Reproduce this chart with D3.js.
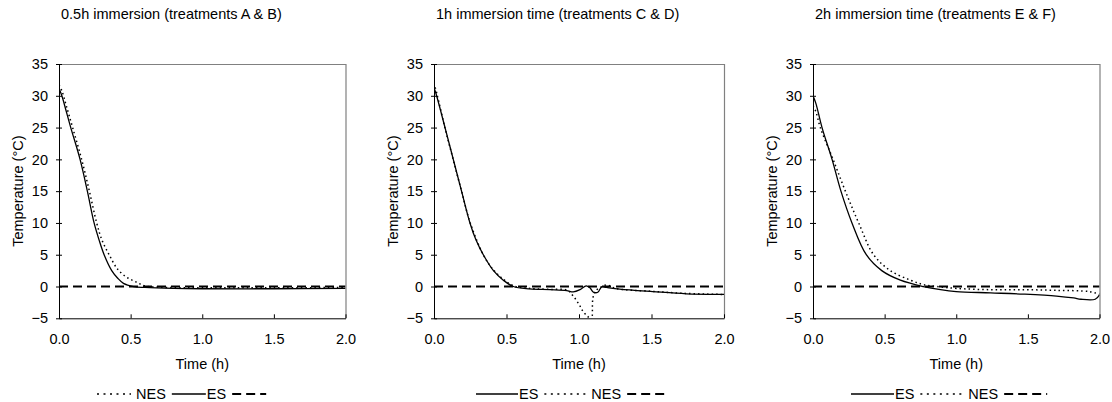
<!DOCTYPE html>
<html>
<head>
<meta charset="utf-8">
<script src="https://cdn.jsdelivr.net/npm/d3@7"></script>
<style>
    body { margin: 0; background: #fff; }
    svg { display: block; font-family: "Liberation Sans", Arial, sans-serif; }
</style>
</head>
<body>
<svg id="chart" width="1112" height="402"></svg>
<script>

// titles of the three panels
const panelTitles = [
    "0.5h immersion (treatments A & B)",
    "1h immersion time (treatments C & D)",
    "2h immersion time (treatments E & F)"
];

const xTicks = [0, 0.5, 1.0, 1.5, 2.0];
const yTicks = [-5, 0, 5, 10, 15, 20, 25, 30, 35];

// [time (h), temperature (°C)]
const esAB = [[0, 31.2], [0.02, 30], [0.05, 27.6], [0.082, 25], [0.147, 20], [0.198, 15], [0.245, 10],
    [0.28, 7.3], [0.315, 5], [0.368, 2.5], [0.41, 1.3], [0.45, 0.5], [0.52, 0], [0.6, -0.15],
    [0.8, -0.3], [1.0, -0.35], [1.5, -0.35], [2.0, -0.3]];
const nesAB = [[0, 31.7], [0.02, 30.8], [0.05, 28.5], [0.095, 25], [0.158, 20], [0.212, 15], [0.263, 10],
    [0.3, 7.3], [0.35, 5], [0.41, 2.7], [0.47, 1.5], [0.53, 0.8], [0.6, 0.1], [0.7, -0.1],
    [1.0, -0.2], [1.5, -0.2], [2.0, -0.15]];

const esCD = [[0, 31.3], [0.018, 30], [0.076, 25], [0.133, 20], [0.19, 15], [0.248, 10], [0.29, 7.3],
    [0.34, 5], [0.41, 2.5], [0.478, 1], [0.547, 0], [0.66, -0.37], [0.8, -0.5], [0.915, -0.65],
    [0.96, -0.85], [1.007, -0.5], [1.05, 0.1], [1.075, -0.2], [1.1, -0.9], [1.13, -0.9],
    [1.157, -0.05], [1.19, -0.15], [1.28, -0.4], [1.51, -0.8], [1.74, -1.15], [1.97, -1.25], [2.0, -1.25]];
const nesCD = [[0, 32], [0.02, 30.3], [0.075, 25], [0.132, 20], [0.19, 15], [0.25, 10], [0.34, 5],
    [0.41, 2.6], [0.48, 1.1], [0.55, 0.1], [0.66, -0.3], [0.8, -0.45], [0.92, -0.6], [0.96, -1.5],
    [1.0, -2.8], [1.03, -4], [1.06, -4.7], [1.085, -5.2], [1.095, -2], [1.11, -0.8], [1.15, -0.1],
    [1.19, 0.25], [1.25, -0.3], [1.5, -0.75], [1.75, -1.1], [2.0, -1.25]];

const esEF = [[0, 30], [0.02, 28.8], [0.063, 25], [0.133, 20], [0.195, 15], [0.272, 10], [0.372, 5],
    [0.48, 2.5], [0.61, 1], [0.77, 0], [0.89, -0.5], [1.0, -0.8], [1.24, -1.0], [1.47, -1.2],
    [1.7, -1.5], [1.82, -1.8], [1.87, -2], [1.97, -2], [2.0, -1.3]];
const nesEF = [[0, 28.4], [0.02, 27.5], [0.051, 25], [0.14, 20], [0.226, 15], [0.319, 10], [0.423, 5],
    [0.54, 2.5], [0.68, 1], [0.77, 0.3], [0.865, 0], [1.0, -0.3], [1.24, -0.5], [1.47, -0.5],
    [1.7, -0.6], [1.93, -0.8], [2.0, -1.2]];

// freezing reference line
const zeroLine = [[0, 0], [2, 0]];

// legend order differs per panel
const legendAB = [["NES", "dot"], ["ES", "solid"], ["", "dash"]];
const legendCD = [["ES", "solid"], ["NES", "dot"], ["", "dash"]];
const legendEF = [["ES", "solid"], ["NES", "dot"], ["", "dash"]];


const styles = {
    solid: {dash: null, width: 1.3, legDash: null},
    dot: {dash: "1.5,3", width: 1.5, legDash: "2,4.5"},
    dash: {dash: "9,5", width: 2, legDash: "9,5"}
};

class Panel {

    /**
     * One small chart of temperature over time
     *
     * @param svg d3 selection of the svg
     * @param opts position, title, series and legend
     */
    constructor(svg, opts) {
        this.svg = svg;
        this.opts = opts;
    }

    draw() {
        let o = this.opts;
        let g = this.svg.append("g");
        let top = 64, bottom = 318.3;

        let x = d3.scaleLinear().domain([0, 2]).range([o.left, o.left + o.width]);
        let y = d3.scaleLinear().domain([-5, 35]).range([bottom, top]);

        // title
        g.append("text")
            .attr("x", o.left + 2)
            .attr("y", 19)
            .attr("font-size", 14.5)
            .text(o.title);

        // gray frame top and right
        g.append("path")
            .attr("d", "M" + x(0) + "," + (y(35) + 0.5) + "H" + (x(2) + 0.5) + "V" + y(-5))
            .attr("fill", "none")
            .attr("stroke", "#808080")
            .attr("stroke-width", 1.2);

        let clipId = "clip" + o.id;
        g.append("clipPath").attr("id", clipId)
            .append("rect")
            .attr("x", x(0)).attr("y", y(35))
            .attr("width", x(2) - x(0)).attr("height", y(-5) - y(35));

        let line = d3.line()
            .x(d => x(d[0]))
            .y(d => y(d[1]))
            .curve(d3.curveCatmullRom.alpha(0.5));

        let plot = g.append("g").attr("clip-path", "url(#" + clipId + ")");
        o.series.forEach(function (s) {
            let st = styles[s.style];
            plot.append("path")
                .datum(s.data)
                .attr("d", line)
                .attr("fill", "none")
                .attr("stroke", "#000")
                .attr("stroke-width", st.width)
                .attr("stroke-dasharray", st.dash);
        });

        // y axis, ticks cross the line
        let yAxis = g.append("g")
            .attr("transform", "translate(" + x(0) + ",0)")
            .call(d3.axisLeft(y).tickValues(yTicks).tickSize(3).tickSizeOuter(0).tickPadding(8));
        yAxis.selectAll(".tick line").attr("x1", 3);

        let xAxis = g.append("g")
            .attr("transform", "translate(0," + y(-5) + ")")
            .call(d3.axisBottom(x).tickValues(xTicks).tickSize(-4).tickSizeOuter(0)
                .tickPadding(15).tickFormat(d3.format(".1f")));

        [xAxis, yAxis].forEach(function (a) {
            a.selectAll("text").attr("font-size", 14.5).attr("font-family", null).attr("fill", "#000");
            a.selectAll("line, path").attr("stroke", "#000");
        });

        // axis titles
        g.append("text")
            .attr("x", (x(0) + x(2)) / 2)
            .attr("y", 369)
            .attr("text-anchor", "middle")
            .attr("font-size", 14.5)
            .text("Time (h)");

        g.append("text")
            .attr("transform", "translate(" + (x(0) - 36) + "," + ((top + bottom) / 2) + ") rotate(-90)")
            .attr("text-anchor", "middle")
            .attr("font-size", 14.5)
            .text("Temperature (°C)");

        // legend
        let lx = o.legendX;
        let ly = 394;
        let leg = g.append("g");
        o.legend.forEach(function (item) {
            let st = styles[item[1]];
            leg.append("line")
                .attr("x1", lx).attr("x2", lx + o.legendLen)
                .attr("y1", ly).attr("y2", ly)
                .attr("stroke", "#000")
                .attr("stroke-width", st.width)
                .attr("stroke-dasharray", st.legDash);
            lx += o.legendLen + (item[1] == "solid" ? 1 : 5);
            if (item[0] != "") {
                let t = leg.append("text")
                    .attr("x", lx).attr("y", ly + 5)
                    .attr("font-size", 14.5)
                    .text(item[0]);
                lx += t.node().getComputedTextLength() + 6;
            }
        });
    }
}

let svg = d3.select("#chart");

let panels = [
    {id: 0, left: 59, width: 286.5, legendX: 97, legendLen: 34, legend: legendAB,
        series: [{data: esAB, style: "solid"}, {data: nesAB, style: "dot"}, {data: zeroLine, style: "dash"}]},
    {id: 1, left: 434, width: 290, legendX: 476, legendLen: 42, legend: legendCD,
        series: [{data: esCD, style: "solid"}, {data: nesCD, style: "dot"}, {data: zeroLine, style: "dash"}]},
    {id: 2, left: 813, width: 286.5, legendX: 851, legendLen: 43, legend: legendEF,
        series: [{data: esEF, style: "solid"}, {data: nesEF, style: "dot"}, {data: zeroLine, style: "dash"}]}
];

panels.forEach(function (p, i) {
    p.title = panelTitles[i];
    new Panel(svg, p).draw();
});

</script>
</body>
</html>
